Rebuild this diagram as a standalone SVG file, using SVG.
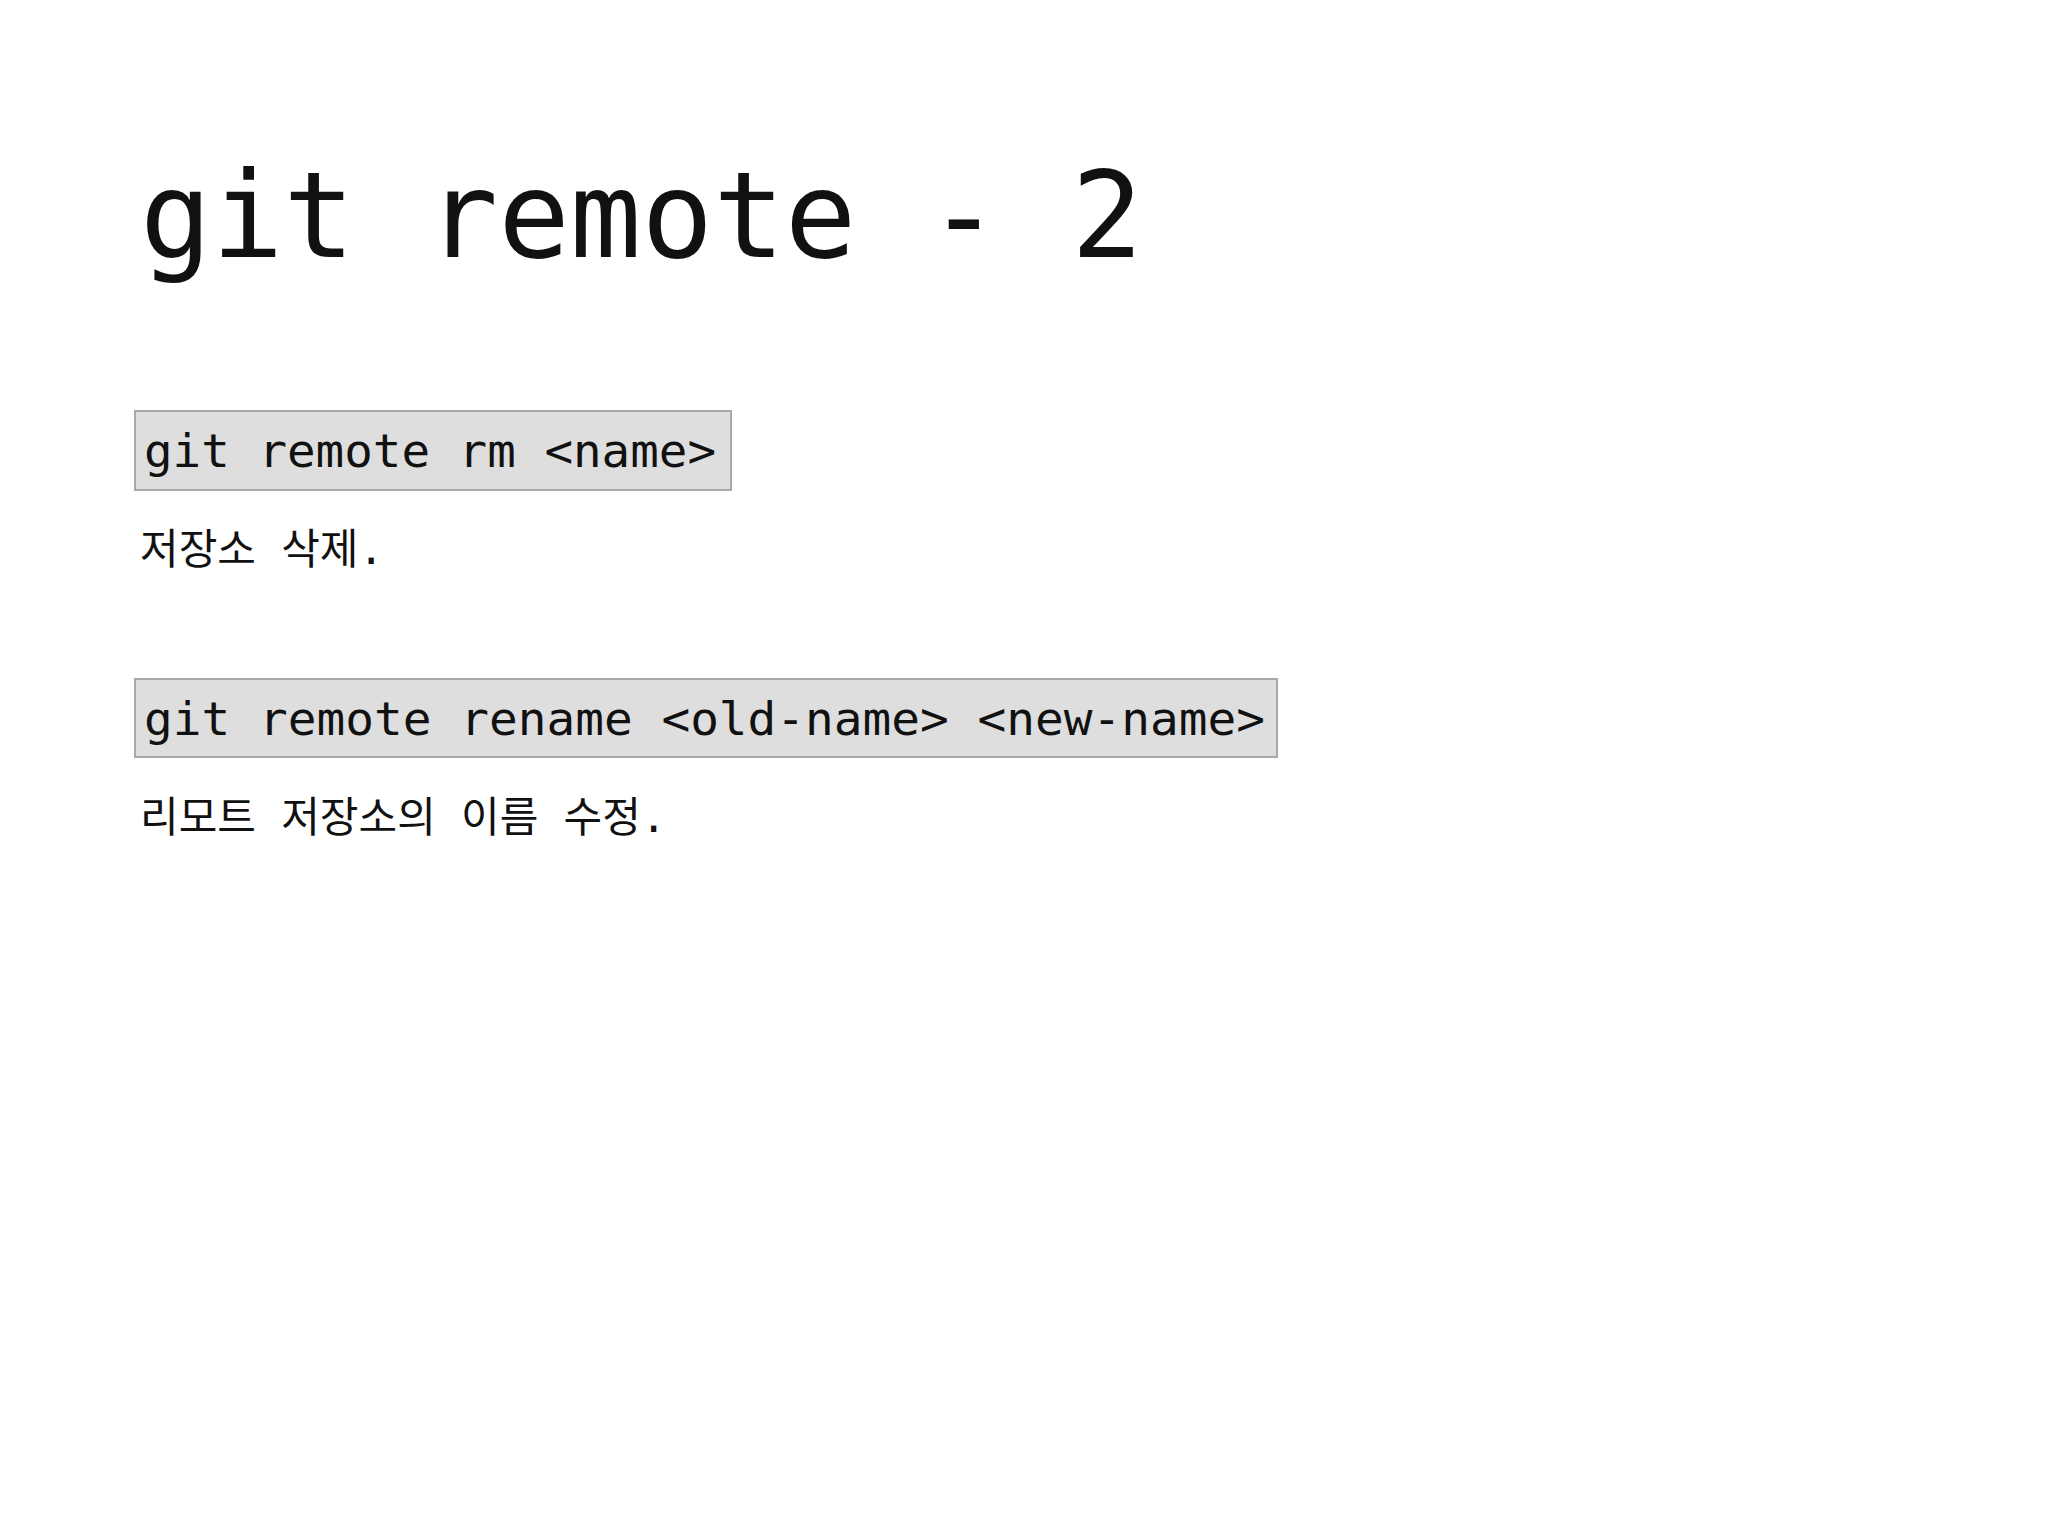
<svg xmlns="http://www.w3.org/2000/svg" width="2048" height="1536" viewBox="0 0 2048 1536">
<style>
.m{font-family:"DejaVu Sans Mono","Liberation Mono","Noto Sans CJK KR",monospace;fill:#111}
.code{font-size:47px}
.box{fill:#dedede;stroke:#a8a8a8;stroke-width:2}
.kr{font-size:42px}
</style>
<rect width="2048" height="1536" fill="#fff"/>
<g id="title"><text class="m" x="140" y="257" font-size="119" textLength="1003" lengthAdjust="spacingAndGlyphs">git remote - 2</text></g>
<g id="cmd1"><rect class="box" x="135" y="411" width="596" height="79"/>
<text class="m code" x="144" y="467" textLength="572" lengthAdjust="spacingAndGlyphs">git remote rm &lt;name&gt;</text></g>
<g id="desc1"><text class="m kr" x="140" y="564">저장소 삭제.</text></g>
<g id="cmd2"><rect class="box" x="135" y="679" width="1142" height="78"/>
<text class="m code" x="144" y="735" textLength="1121" lengthAdjust="spacingAndGlyphs">git remote rename &lt;old-name&gt; &lt;new-name&gt;</text></g>
<g id="desc2"><text class="m kr" x="140" y="832">리모트 저장소의 이름 수정.</text></g>
<g id="connectors"/>
</svg>
